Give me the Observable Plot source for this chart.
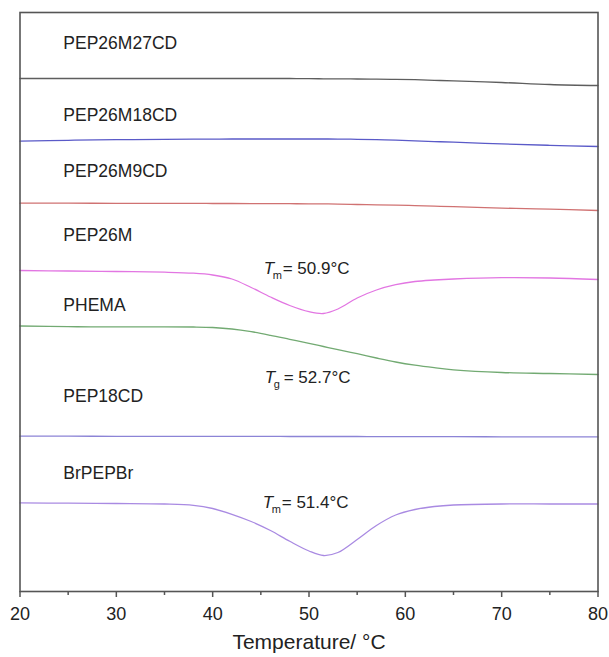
<!DOCTYPE html>
<html>
<head>
<meta charset="utf-8">
<script src="https://cdn.jsdelivr.net/npm/d3@7"></script>
<script src="https://cdn.jsdelivr.net/npm/@observablehq/plot@0.6"></script>
<style>
  html, body { margin: 0; padding: 0; background: #fff; }
  #chart svg { display: block; }
</style>
</head>
<body>
<div id="chart"></div>
<script>
// Common temperature grid (°C)
const temps = [20, 25, 30, 35, 38, 40, 42, 44, 46, 48, 50, 51.5, 53, 55, 57, 59, 61, 63, 65, 70, 75, 80];

// Heat flow (a.u., curves offset vertically)
const seriesNames = ["PEP26M27CD", "PEP26M18CD", "PEP26M9CD", "PEP26M", "PHEMA", "PEP18CD", "BrPEPBr"];
const pep26m27cd = [51.3,51.3,51.3,51.3,51.3,51.3,51.3,51.3,51.3,51.3,51.28,51.27,51.26,51.25,51.23,51.21,51.18,51.12,51.06,50.9,50.7,50.6];
const pep26m18cd = [45.03,45.12,45.18,45.21,45.23,45.24,45.25,45.25,45.25,45.25,45.25,45.25,45.24,45.22,45.18,45.13,45.06,44.99,44.94,44.76,44.62,44.5];
const pep26m9cd  = [38.83,38.83,38.82,38.81,38.81,38.8,38.8,38.79,38.79,38.78,38.77,38.76,38.74,38.7,38.67,38.63,38.59,38.54,38.48,38.34,38.24,38.1];
const pep26m     = [32.1,32.05,32.0,31.93,31.83,31.65,31.25,30.4,29.45,28.6,27.98,27.8,28.25,29.35,30.15,30.68,31.0,31.15,31.25,31.38,31.35,31.2];
const phema      = [26.55,26.48,26.47,26.47,26.45,26.4,26.25,25.98,25.62,25.22,24.82,24.5,24.18,23.78,23.35,22.95,22.63,22.38,22.17,21.9,21.8,21.7];
const pep18cd    = [15.53,15.53,15.52,15.52,15.52,15.52,15.51,15.51,15.51,15.5,15.5,15.5,15.5,15.5,15.49,15.49,15.49,15.48,15.48,15.47,15.47,15.46];
const brpepbr    = [8.86,8.83,8.8,8.75,8.62,8.3,7.72,7.0,6.1,5.02,4.05,3.6,3.9,5.2,6.6,7.65,8.2,8.5,8.65,8.75,8.75,8.75];
const seriesValues = [pep26m27cd, pep26m18cd, pep26m9cd, pep26m, phema, pep18cd, brpepbr];
const seriesColors = ["#5e5e5e", "#5a5ac8", "#d07272", "#e276e2", "#72aa72", "#8c84d6", "#a98ae2"];

// Curve labels (position in data units)
const labelT = [24.5, 24.5, 24.5, 24.5, 24.5, 24.5, 24.5];
const labelY = [54.8, 47.6, 42.0, 35.6, 28.6, 19.5, 11.8];

// Transition annotations
const annoT = [45.3, 45.4, 45.2];
const annoY = [32.3, 21.4, 8.9];
const annoSymbol = ["T", "T", "T"];
const annoSub = ["m", "g", "m"];
const annoRest = ["= 50.9°C", "= 52.7°C", "= 51.4°C"];

// Axis
const majorTicks = [20, 30, 40, 50, 60, 70, 80];
const minorTicks = [25, 35, 45, 55, 65, 75];
const xTitle = "Temperature/ °C";

const rows = [];
seriesNames.forEach((name, i) => {
  temps.forEach((t, j) => rows.push({series: name, T: t, v: seriesValues[i][j]}));
});
const labels = seriesNames.map((name, i) => ({name, T: labelT[i], y: labelY[i]}));
const annos = annoT.map((t, i) => ({T: t, y: annoY[i], sym: annoSymbol[i], sub: annoSub[i], rest: annoRest[i]}));

const font = "'Liberation Sans', Arial, sans-serif";
const chart = Plot.plot({
  width: 609,
  height: 657,
  marginLeft: 19.5,
  marginRight: 11.5,
  marginTop: 12,
  marginBottom: 66,
  style: {fontFamily: font, color: "#222", background: "#fff"},
  x: {domain: [20, 80], label: null},
  y: {domain: [0, 57.9], axis: null},
  color: {domain: seriesNames, range: seriesColors},
  marks: [
    Plot.line(rows, {x: "T", y: "v", z: "series", stroke: "series", strokeWidth: 1.3, curve: "catmull-rom"}),
    Plot.text(labels, {x: "T", y: "y", text: "name", textAnchor: "start", fontSize: 17.5, fill: "#222"}),
    Plot.text(annos, {x: "T", y: "y", text: "sym", textAnchor: "start", fontSize: 17, fontStyle: "italic", fill: "#222"}),
    Plot.text(annos, {x: "T", y: "y", text: "sub", textAnchor: "start", fontSize: 11, dx: 9, dy: 7, fill: "#222"}),
    Plot.text(annos, {x: "T", y: "y", text: "rest", textAnchor: "start", fontSize: 17, dx: 19, fill: "#222"}),
    Plot.axisX({ticks: minorTicks, tickSize: 4, text: null, label: null, strokeWidth: 1.5, stroke: "#555"}),
    Plot.axisX({ticks: majorTicks, tickSize: 6, tickPadding: 9.5, fontSize: 18, tickFormat: d => String(d), label: null, strokeWidth: 1.5, stroke: "#555", fill: "#222"}),
    Plot.text([xTitle], {frameAnchor: "bottom", dy: 57, fontSize: 21, fill: "#222"}),
    Plot.frame({stroke: "#555", strokeWidth: 1.6})
  ]
});
document.getElementById("chart").appendChild(chart);
</script>
</body>
</html>
